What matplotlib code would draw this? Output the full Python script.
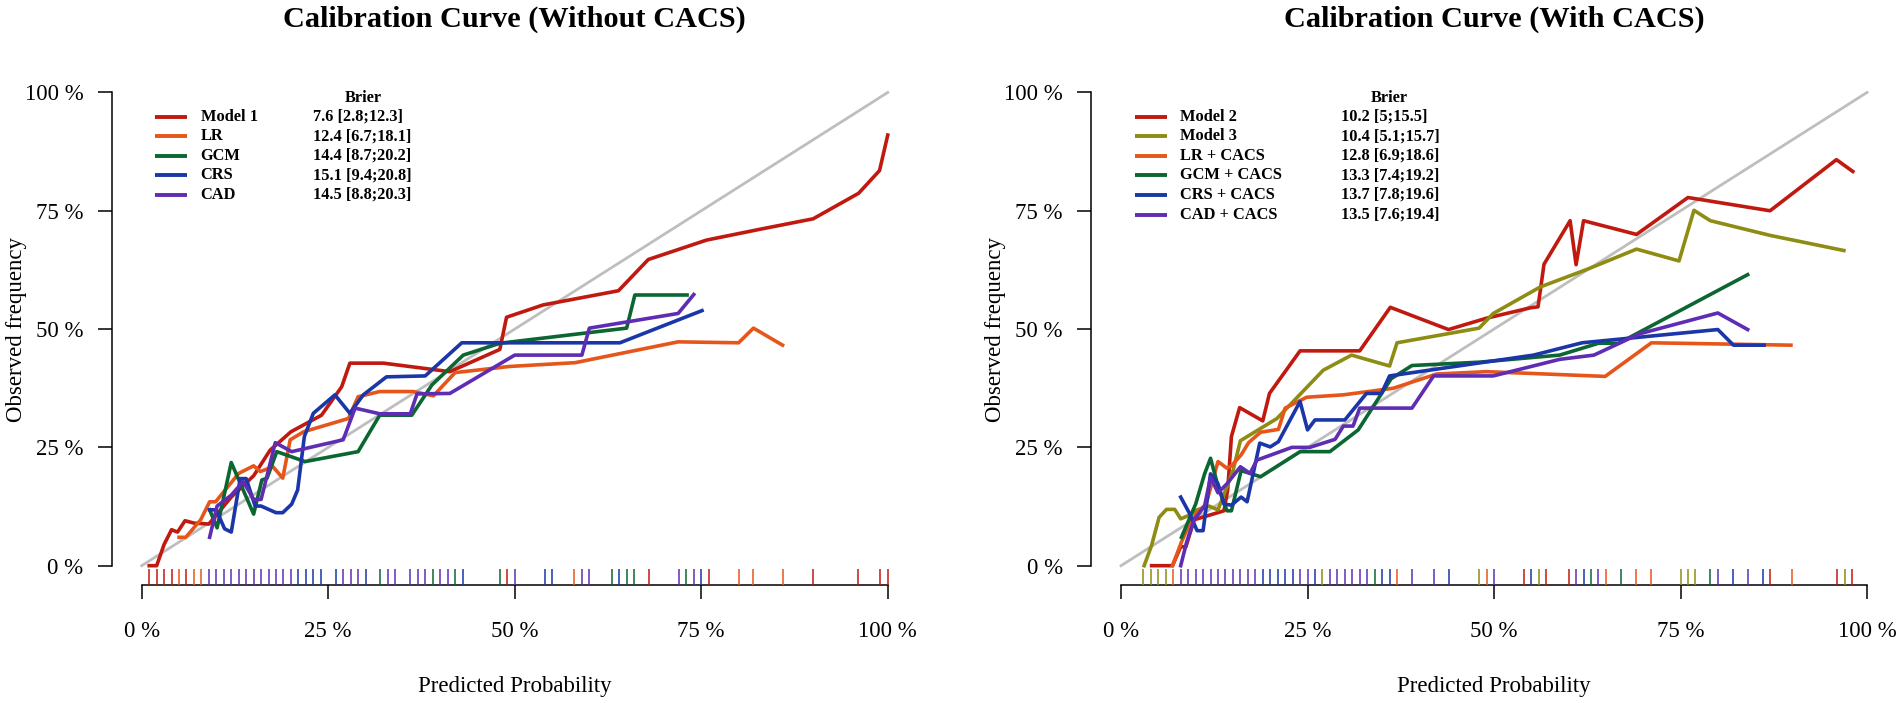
import matplotlib
matplotlib.use('Agg')
import matplotlib.pyplot as plt
import matplotlib.transforms as mtransforms
import numpy as np

plt.rcParams['font.family'] = ['Liberation Serif', 'DejaVu Serif']

RED = '#C01A10'
ORANGE = '#E6561B'
GREEN = '#0B6631'
BLUE = '#1A36A8'
PURPLE = '#5E2DB3'
OLIVE = '#8E8C12'

# ---------------- left panel: without CACS ----------------
left_names = ['Model 1', 'LR', 'GCM', 'CRS', 'CAD']
left_brier = ['7.6 [2.8;12.3]', '12.4 [6.7;18.1]', '14.4 [8.7;20.2]',
              '15.1 [9.4;20.8]', '14.5 [8.8;20.3]']

m1_x = [0.01, 0.02, 0.03, 0.04, 0.048, 0.058, 0.07, 0.09, 0.12, 0.15, 0.172, 0.2, 0.241,
        0.268, 0.279, 0.324, 0.413, 0.48, 0.489, 0.538, 0.639, 0.679, 0.757, 0.829, 0.9,
        0.961, 0.989, 1.0]
m1_y = [0, 0, 0.045, 0.076, 0.071, 0.095, 0.09, 0.088, 0.145, 0.19, 0.244, 0.283, 0.318,
        0.378, 0.428, 0.428, 0.41, 0.457, 0.525, 0.551, 0.581, 0.647, 0.688, 0.711, 0.733,
        0.787, 0.835, 0.91]

lr_x = [0.05, 0.059, 0.079, 0.091, 0.099, 0.13, 0.15, 0.159, 0.176, 0.189, 0.199, 0.217,
        0.277, 0.29, 0.319, 0.364, 0.391, 0.42, 0.493, 0.581, 0.719, 0.8, 0.82, 0.859]
lr_y = [0.06, 0.06, 0.097, 0.135, 0.135, 0.195, 0.211, 0.199, 0.209, 0.185, 0.266, 0.283,
        0.311, 0.357, 0.368, 0.368, 0.359, 0.408, 0.421, 0.429, 0.473, 0.471, 0.502, 0.466]

gcm_x = [0.091, 0.101, 0.12, 0.15, 0.161, 0.168, 0.181, 0.219, 0.29, 0.319, 0.362, 0.389,
         0.431, 0.48, 0.65, 0.661, 0.731]
gcm_y = [0.118, 0.08, 0.218, 0.109, 0.181, 0.185, 0.241, 0.22, 0.241, 0.318, 0.318, 0.382,
         0.445, 0.47, 0.502, 0.572, 0.572]

crs_x = [0.091, 0.1, 0.111, 0.12, 0.132, 0.14, 0.152, 0.16, 0.18, 0.189, 0.201, 0.209, 0.218,
         0.23, 0.259, 0.279, 0.297, 0.328, 0.38, 0.429, 0.641, 0.751]
crs_y = [0.118, 0.118, 0.078, 0.071, 0.184, 0.184, 0.126, 0.126, 0.112, 0.112, 0.13, 0.16,
         0.273, 0.322, 0.361, 0.322, 0.361, 0.399, 0.401, 0.471, 0.471, 0.539]

cad_x = [0.091, 0.101, 0.12, 0.136, 0.15, 0.16, 0.179, 0.201, 0.27, 0.286, 0.319, 0.36, 0.369,
         0.413, 0.5, 0.59, 0.6, 0.719, 0.74]
cad_y = [0.06, 0.126, 0.149, 0.178, 0.14, 0.14, 0.26, 0.241, 0.266, 0.333, 0.321, 0.321,
         0.363, 0.364, 0.445, 0.445, 0.502, 0.533, 0.573]

# rug ticks (percent)
m1_rug = [1, 2, 3, 4, 6, 49, 68, 76, 90, 96, 99, 100]
lr_rug = [5, 7, 8, 58, 80, 82, 86]
gcm_rug = [32, 39, 42, 48, 63, 65, 66, 73]
crs_rug = [21, 22, 23, 24, 26, 30, 43, 54, 55, 64, 75]
cad_rug = [9, 10, 11, 12, 13, 14, 15, 16, 17, 18, 19, 20, 27, 28, 29, 33, 34, 36, 37, 38,
           40, 41, 50, 59, 60, 72, 74]

# ---------------- right panel: with CACS ----------------
right_names = ['Model 2', 'Model 3', 'LR + CACS', 'GCM + CACS', 'CRS + CACS', 'CAD + CACS']
right_brier = ['10.2 [5;15.5]', '10.4 [5.1;15.7]', '12.8 [6.9;18.6]', '13.3 [7.4;19.2]',
               '13.7 [7.8;19.6]', '13.5 [7.6;19.4]']

m2_x = [0.041, 0.069, 0.08, 0.087, 0.098, 0.138, 0.143, 0.148, 0.159, 0.19, 0.199, 0.24,
        0.32, 0.361, 0.439, 0.49, 0.549, 0.559, 0.567, 0.602, 0.61, 0.62, 0.691, 0.76, 0.87,
        0.959, 0.981]
m2_y = [0, 0, 0.04, 0.04, 0.097, 0.116, 0.16, 0.273, 0.334, 0.306, 0.364, 0.454, 0.454,
        0.546, 0.499, 0.523, 0.545, 0.547, 0.637, 0.729, 0.636, 0.729, 0.7, 0.778, 0.75,
        0.858, 0.833]

m3_x = [0.031, 0.041, 0.051, 0.061, 0.072, 0.08, 0.092, 0.102, 0.118, 0.13, 0.15, 0.16,
        0.209, 0.271, 0.309, 0.36, 0.37, 0.48, 0.499, 0.562, 0.626, 0.691, 0.748, 0.768,
        0.79, 0.87, 0.969]
m3_y = [0, 0.043, 0.102, 0.119, 0.119, 0.099, 0.107, 0.118, 0.126, 0.118, 0.2, 0.264,
        0.311, 0.413, 0.445, 0.422, 0.471, 0.502, 0.533, 0.589, 0.627, 0.669, 0.644, 0.751,
        0.729, 0.698, 0.666]

lrc_x = [0.069, 0.081, 0.092, 0.102, 0.114, 0.13, 0.142, 0.148, 0.161, 0.171, 0.187, 0.211,
         0.22, 0.249, 0.298, 0.365, 0.423, 0.49, 0.649, 0.711, 0.898]
lrc_y = [0, 0.05, 0.088, 0.112, 0.13, 0.22, 0.206, 0.211, 0.234, 0.26, 0.282, 0.288, 0.333,
         0.356, 0.361, 0.375, 0.405, 0.41, 0.4, 0.471, 0.466]

gcmc_x = [0.081, 0.1, 0.112, 0.12, 0.13, 0.142, 0.148, 0.161, 0.187, 0.24, 0.28, 0.318,
          0.362, 0.39, 0.48, 0.588, 0.64, 0.667, 0.84]
gcmc_y = [0.06, 0.13, 0.194, 0.227, 0.168, 0.116, 0.116, 0.201, 0.188, 0.241, 0.241, 0.287,
          0.395, 0.423, 0.43, 0.445, 0.47, 0.47, 0.615]

crsc_x = [0.08, 0.092, 0.102, 0.11, 0.12, 0.13, 0.138, 0.148, 0.161, 0.169, 0.186, 0.2, 0.211,
          0.24, 0.25, 0.26, 0.3, 0.329, 0.349, 0.36, 0.553, 0.618, 0.8, 0.821, 0.862]
crsc_y = [0.145, 0.11, 0.074, 0.074, 0.194, 0.173, 0.13, 0.128, 0.145, 0.135, 0.259, 0.251,
          0.262, 0.347, 0.287, 0.308, 0.308, 0.364, 0.364, 0.401, 0.445, 0.471, 0.499, 0.466,
          0.466]

cadc_x = [0.08, 0.088, 0.098, 0.112, 0.12, 0.13, 0.142, 0.16, 0.173, 0.182, 0.229, 0.253,
          0.287, 0.298, 0.311, 0.32, 0.39, 0.419, 0.499, 0.588, 0.634, 0.695, 0.8, 0.84]
cadc_y = [0, 0.05, 0.097, 0.126, 0.187, 0.154, 0.173, 0.209, 0.195, 0.223, 0.25, 0.25, 0.267,
          0.295, 0.295, 0.333, 0.333, 0.401, 0.401, 0.436, 0.445, 0.49, 0.534, 0.499]

m2_rug = [54, 57, 60, 87, 96, 98]
m3_rug = [3, 4, 5, 6, 27, 48, 56, 75, 76, 77, 97]
lrc_rug = [7, 37, 49, 65, 69, 71, 90]
gcmc_rug = [34, 63, 67, 79]
crsc_rug = [19, 20, 21, 22, 23, 26, 35, 36, 44, 55, 62, 82, 86]
cadc_rug = [8, 9, 10, 11, 12, 13, 14, 15, 16, 17, 18, 24, 25, 28, 29, 30, 31, 32, 33, 39, 42,
            50, 61, 64, 80, 84]

ticks = [0, 0.25, 0.5, 0.75, 1.0]
tick_labels = ['0 %', '25 %', '50 %', '75 %', '100 %']


def draw_panel(ax, names, colors, xs, ys, rugs, brier, leg_x):
    lo, hi = -0.04, 1.04
    ax.set_xlim(lo, hi)
    ax.set_ylim(lo, hi)
    ax.plot([0, 1], [0, 1], color='#BEBEBE', lw=2.0, zorder=1)
    for x, y, c in zip(xs, ys, colors):
        ax.plot(x, y, color=c, lw=2.6, solid_joinstyle='round', zorder=2)
    for r, c in zip(rugs, colors):
        ax.vlines(np.array(r) / 100, lo, lo + 0.034, color=c, lw=1.1, zorder=3)

    for s in ['top', 'right']:
        ax.spines[s].set_visible(False)
    for s in ['left', 'bottom']:
        ax.spines[s].set_bounds(0, 1)
        ax.spines[s].set_linewidth(1.1)
    ax.set_xticks(ticks)
    ax.set_xticklabels(tick_labels)
    ax.set_yticks(ticks)
    ax.set_yticklabels(tick_labels)
    ax.tick_params(axis='x', length=10, width=1.1, pad=16, labelsize=16.5)
    ax.tick_params(axis='y', length=10, width=1.1, pad=10.5, labelsize=16.5)

    trans = mtransforms.blended_transform_factory(ax.transAxes, ax.transData)
    ax.text(-0.1187, 0.5, 'Observed frequency', transform=trans, rotation=90,
            ha='center', va='center', fontsize=16.5)
    trans2 = mtransforms.blended_transform_factory(ax.transData, ax.transAxes)
    ax.text(0.5, -0.21, 'Predicted Probability', transform=trans2,
            ha='center', va='baseline', fontsize=16.5)

    # legend with Brier scores
    lx0, lx1, lab_x, val_x, head_x = leg_x
    y0, dy = 0.949, 0.0414
    ax.text(head_x, 0.989, 'Brier', ha='center', va='center', fontsize=11.8,
            fontweight='bold')
    for i, (n, c, b) in enumerate(zip(names, colors, brier)):
        yy = y0 - i * dy
        ax.plot([lx0, lx1], [yy, yy], color=c, lw=2.8, solid_capstyle='butt')
        ax.text(lab_x, yy, n, ha='left', va='center', fontsize=11.8, fontweight='bold')
        ax.text(val_x, yy, b, ha='left', va='center', fontsize=11.8, fontweight='bold')


fig = plt.figure(figsize=(19.02, 7.03), dpi=100, facecolor='white')
ax1 = fig.add_axes([0.05883, 0.1684, 0.4236, 0.727])
ax2 = fig.add_axes([0.5737, 0.1684, 0.4236, 0.727])

draw_panel(ax1, left_names,
           [RED, ORANGE, GREEN, BLUE, PURPLE],
           [m1_x, lr_x, gcm_x, crs_x, cad_x], [m1_y, lr_y, gcm_y, crs_y, cad_y],
           [m1_rug, lr_rug, gcm_rug, crs_rug, cad_rug], left_brier,
           (0.0178, 0.061, 0.0788, 0.23, 0.2966))
draw_panel(ax2, right_names,
           [RED, OLIVE, ORANGE, GREEN, BLUE, PURPLE],
           [m2_x, m3_x, lrc_x, gcmc_x, crsc_x, cadc_x],
           [m2_y, m3_y, lrc_y, gcmc_y, crsc_y, cadc_y],
           [m2_rug, m3_rug, lrc_rug, gcmc_rug, crsc_rug, cadc_rug], right_brier,
           (0.0188, 0.061, 0.0797, 0.2945, 0.359))

titles = ['Calibration Curve (Without CACS)', 'Calibration Curve (With CACS)']
for ax, t in zip((ax1, ax2), titles):
    pos = ax.get_position()
    fig.text(pos.x0 + pos.width / 2, 1 - 19.5 / 703, t, ha='center',
             va='center', fontsize=21.8, fontweight='bold')

fig.savefig('out.png', dpi=100, facecolor='white')
